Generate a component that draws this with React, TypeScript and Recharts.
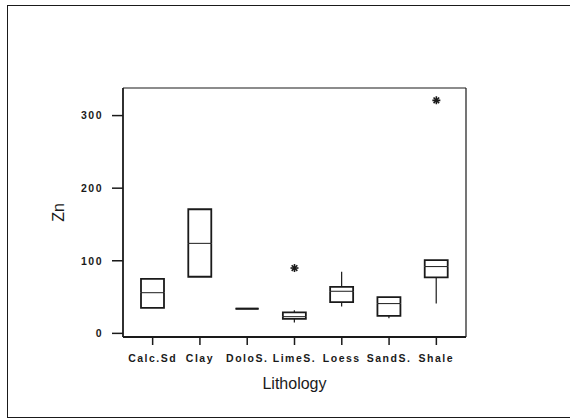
import React from 'react';
import {
  ComposedChart,
  Bar,
  Scatter,
  XAxis,
  YAxis,
  Label
} from 'recharts';

const categories = ['Calc.Sd', 'Clay', 'DoloS.', 'LimeS.', 'Loess', 'SandS.', 'Shale'];
const whiskerLow = [35, 78, 34, 15, 37, 21, 41];
const q1 = [35, 78, 34, 20, 43, 24, 77];
const median = [56, 124, 34, 23, 58, 41, 92];
const q3 = [75, 171, 34, 29, 64, 50, 101];
const whiskerHigh = [75, 171, 34, 32, 85, 50, 101];
const outlierValues = [null, null, null, 90, null, null, 321];
const yTicks = [0, 100, 200, 300];

// stacked segments: hidden base, lower whisker, lower box half, upper box half, upper whisker
const data = categories.map((cat, i) => ({
  cat,
  base: whiskerLow[i],
  wLow: q1[i] - whiskerLow[i],
  boxLow: median[i] - q1[i],
  boxHigh: q3[i] - median[i],
  wHigh: whiskerHigh[i] - q3[i],
  outlier: outlierValues[i]
}));

const INK = '#1a1a1a';
const FONT = '"Liberation Sans", Arial, sans-serif';

const Empty = () => <g />;

const Whisker = (props: any) => {
  const { x, y, width, height } = props;
  if (!height || height <= 0) return <g />;
  const cx = x + width / 2;
  return <line x1={cx} y1={y} x2={cx} y2={y + height} stroke={INK} strokeWidth={1.2} />;
};

const BoxLow = (props: any) => {
  const { x, y, width, height } = props;
  const h = height || 0;
  return (
    <g>
      <path
        d={`M${x},${y} L${x},${y + h} L${x + width},${y + h} L${x + width},${y}`}
        fill="none"
        stroke={INK}
        strokeWidth={1.8}
      />
      <line x1={x} y1={y} x2={x + width} y2={y} stroke={INK} strokeWidth={h > 0 ? 1 : 1.8} />
    </g>
  );
};

const BoxHigh = (props: any) => {
  const { x, y, width, height } = props;
  const h = height || 0;
  if (h <= 0) return <g />;
  return (
    <path
      d={`M${x},${y + h} L${x},${y} L${x + width},${y} L${x + width},${y + h}`}
      fill="none"
      stroke={INK}
      strokeWidth={1.8}
    />
  );
};

const Star = (props: any) => {
  const { cx, cy, payload } = props;
  if (!payload || payload.outlier == null || cy == null || isNaN(cy)) return <g />;
  const r = 4;
  const d = r * 0.7;
  return (
    <g stroke={INK} strokeWidth={1.6}>
      <line x1={cx} y1={cy - r} x2={cx} y2={cy + r} />
      <line x1={cx - d} y1={cy - d} x2={cx + d} y2={cy + d} />
      <line x1={cx - d} y1={cy + d} x2={cx + d} y2={cy - d} />
      <line x1={cx - r} y1={cy} x2={cx + r} y2={cy} />
    </g>
  );
};

const tickStyle = { fill: INK, fontSize: 10.5, fontWeight: 'bold', letterSpacing: 1.5, fontFamily: FONT };

export default function App() {
  return (
    <div style={{ position: 'absolute', left: 0, top: 0, width: 570, height: 419, background: '#fff' }}>
      <div
        style={{
          position: 'absolute',
          left: 7,
          top: 5,
          width: 563,
          height: 411,
          borderLeft: `1.5px solid ${INK}`,
          borderTop: `1.5px solid ${INK}`,
          borderBottom: `1.5px solid ${INK}`
        }}
      />
      <ComposedChart
        width={570}
        height={419}
        data={data}
        margin={{ top: 87, right: 103, bottom: 0, left: 0 }}
        barSize={23}
        style={{ position: 'absolute', left: 0, top: 0, fontFamily: FONT }}
      >
        <XAxis
          dataKey="cat"
          type="category"
          padding={{ left: 6, right: 6 }}
          height={82}
          axisLine={{ stroke: INK, strokeWidth: 1.8 }}
          tickLine={{ stroke: INK, strokeWidth: 1.5 }}
          tickSize={8}
          tickMargin={10}
          tick={tickStyle}
          interval={0}
        >
          <Label
            value="Lithology"
            position="insideBottom"
            offset={30}
            style={{ fill: INK, fontSize: 16, fontFamily: FONT }}
          />
        </XAxis>
        <XAxis
          xAxisId="top"
          dataKey="cat"
          type="category"
          orientation="top"
          padding={{ left: 6, right: 6 }}
          height={1}
          tick={false}
          tickLine={false}
          axisLine={{ stroke: INK, strokeWidth: 1.2 }}
        />
        <YAxis
          type="number"
          domain={[-5, 338]}
          ticks={yTicks}
          width={123}
          axisLine={{ stroke: INK, strokeWidth: 1.8 }}
          tickLine={{ stroke: INK, strokeWidth: 1.5 }}
          tickSize={11}
          tickMargin={9}
          tick={tickStyle}
          interval={0}
        >
          <Label
            value="Zn"
            angle={-90}
            position="insideLeft"
            offset={58}
            style={{ fill: INK, fontSize: 16, fontFamily: FONT, textAnchor: 'middle' }}
          />
        </YAxis>
        <YAxis
          yAxisId="right"
          orientation="right"
          type="number"
          domain={[-5, 338]}
          allowDataOverflow
          width={1}
          tick={false}
          tickLine={false}
          axisLine={{ stroke: INK, strokeWidth: 1.2 }}
        />
        <Bar dataKey="base" stackId="box" shape={<Empty />} isAnimationActive={false} />
        <Bar dataKey="wLow" stackId="box" shape={<Whisker />} isAnimationActive={false} />
        <Bar dataKey="boxLow" stackId="box" shape={<BoxLow />} isAnimationActive={false} />
        <Bar dataKey="boxHigh" stackId="box" shape={<BoxHigh />} isAnimationActive={false} />
        <Bar dataKey="wHigh" stackId="box" shape={<Whisker />} isAnimationActive={false} />
        <Scatter
          dataKey="outlier"
          xAxisId="top"
          yAxisId="right"
          shape={<Star />}
          isAnimationActive={false}
        />
      </ComposedChart>
    </div>
  );
}
